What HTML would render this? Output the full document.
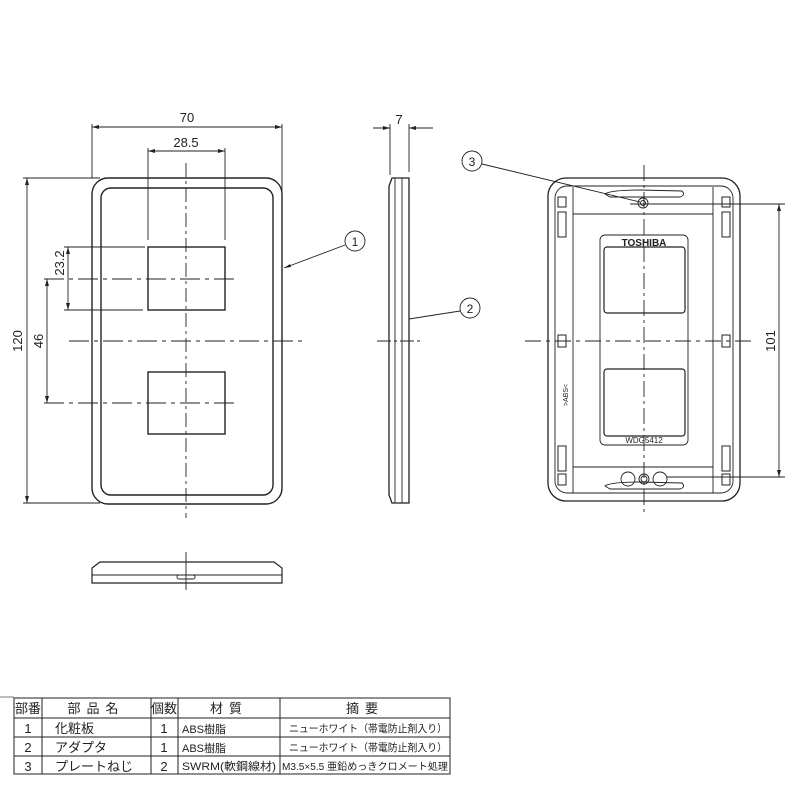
<!DOCTYPE html>
<html><head><meta charset="utf-8"><style>
html,body{margin:0;padding:0;background:#fff;}
svg{display:block;}
text{font-family:"Liberation Sans","Noto Sans CJK JP",sans-serif;fill:#222;}
</style></head><body>
<svg width="800" height="800" viewBox="0 0 800 800" xmlns="http://www.w3.org/2000/svg">
<g fill="none" stroke="#222" stroke-width="1.4">
<rect x="92" y="178" width="190" height="326" rx="16"/>
<rect x="101" y="188" width="172" height="307" rx="10"/>
<rect x="148" y="247" width="77" height="63"/>
<rect x="148" y="372" width="77" height="62"/>
</g>
<g fill="none" stroke="#222" stroke-width="0.9">
<line x1="186" y1="163" x2="186" y2="518" stroke-dasharray="14,4,3,4"/>
<line x1="69" y1="341" x2="302" y2="341" stroke-dasharray="20,5,4,5"/>
<line x1="44" y1="279" x2="238" y2="279" stroke-dasharray="20,5,4,5"/>
<line x1="44" y1="403" x2="238" y2="403" stroke-dasharray="20,5,4,5"/>
<line x1="92" y1="124" x2="92" y2="178"/><line x1="282" y1="124" x2="282" y2="195"/>
<line x1="92" y1="127" x2="282" y2="127"/>
<line x1="148" y1="148" x2="148" y2="240"/><line x1="225" y1="148" x2="225" y2="240"/>
<line x1="148" y1="151" x2="225" y2="151"/>
<line x1="23" y1="178" x2="100" y2="178"/><line x1="23" y1="503" x2="100" y2="503"/>
<line x1="27" y1="178" x2="27" y2="503"/>
<line x1="47" y1="279" x2="47" y2="403"/>
<line x1="64" y1="247" x2="145" y2="247"/><line x1="64" y1="310" x2="143" y2="310"/>
<line x1="68" y1="247" x2="68" y2="310"/>
<line x1="284" y1="268" x2="345" y2="245"/>
<line x1="409" y1="319" x2="460" y2="311"/>
<line x1="482" y1="164" x2="640" y2="202"/>
<circle cx="355" cy="241" r="10"/>
<circle cx="470" cy="308" r="10"/>
<circle cx="472" cy="161" r="10"/>
<path d="M392 178 L409 178 L409 503 L392 503 L389 495 L389 186 Z" stroke-width="1.3"/>
<line x1="395" y1="178" x2="395" y2="503"/>
<line x1="402" y1="178" x2="402" y2="503"/>
<line x1="390" y1="124" x2="390" y2="175"/><line x1="409" y1="124" x2="409" y2="172"/>
<line x1="373" y1="128" x2="390" y2="128"/><line x1="409" y1="128" x2="433" y2="128"/>
<line x1="377" y1="341" x2="420" y2="341" stroke-dasharray="14,3,3,3"/>
<path d="M92 583 L92 568 L100 562 L274 562 L282 568 L282 583 Z" stroke-width="1.2"/>
<line x1="92" y1="575" x2="282" y2="575"/>
<rect x="177" y="575" width="18" height="4" rx="2"/>
<line x1="186" y1="552" x2="186" y2="590"/>
<rect x="548" y="178" width="192" height="323" rx="18" stroke-width="1.3"/>
<rect x="555" y="186" width="178" height="307" rx="12"/>
<line x1="573" y1="187" x2="573" y2="493"/><line x1="713" y1="187" x2="713" y2="493"/>
<line x1="573" y1="214" x2="713" y2="214"/><line x1="573" y1="467" x2="713" y2="467"/>
<rect x="600" y="235" width="88" height="210" rx="5"/>
<rect x="604" y="247" width="81" height="66" rx="3" stroke-width="1.2"/>
<rect x="604" y="369" width="81" height="67" rx="3" stroke-width="1.2"/>
<path d="M605 194 Q610 190 640 190 L682 191 Q686 195 680 197 L610 197 Z"/>
<path d="M605 486 Q610 482 640 482 L682 483 Q686 487 680 489 L610 489 Z"/>
<circle cx="643" cy="203" r="5"/><circle cx="643" cy="203" r="2.5"/>
<circle cx="628" cy="479" r="7"/><circle cx="660" cy="479" r="7"/>
<circle cx="644" cy="479" r="5"/><circle cx="644" cy="479" r="3"/>
<g stroke-width="1">
<rect x="558" y="197" width="8" height="10"/><rect x="558" y="212" width="8" height="25"/>
<rect x="722" y="197" width="8" height="10"/><rect x="722" y="212" width="8" height="25"/>
<rect x="558" y="335" width="8" height="12"/><rect x="722" y="335" width="8" height="12"/>
<rect x="558" y="446" width="8" height="25"/><rect x="558" y="474" width="8" height="11"/>
<rect x="722" y="446" width="8" height="25"/><rect x="722" y="474" width="8" height="11"/>
</g>
<line x1="644" y1="165" x2="644" y2="512" stroke-dasharray="16,4,3,4"/>
<line x1="525" y1="341" x2="755" y2="341" stroke-dasharray="16,5,4,5"/>
<line x1="630" y1="204" x2="785" y2="204"/>
<line x1="667" y1="477" x2="785" y2="477"/>
<line x1="779" y1="204" x2="779" y2="477"/>
</g>
<g fill="#222">
<path d="M92 127 l7 -2 v4 z"/><path d="M282 127 l-7 -2 v4 z"/>
<path d="M148 151 l7 -2 v4 z"/><path d="M225 151 l-7 -2 v4 z"/>
<path d="M27 178 l-2 7 h4 z"/><path d="M27 503 l-2 -7 h4 z"/>
<path d="M47 279 l-2 7 h4 z"/><path d="M47 403 l-2 -7 h4 z"/>
<path d="M68 247 l-2 7 h4 z"/><path d="M68 310 l-2 -7 h4 z"/>
<path d="M390 128 l-7 -2 v4 z"/><path d="M409 128 l7 -2 v4 z"/>
<path d="M284 268 l6 -4 l1 3 z"/>
<path d="M779 204 l-2 7 h4 z"/><path d="M779 477 l-2 -7 h4 z"/>
</g>
<g font-size="13">
<text x="187" y="122" text-anchor="middle">70</text>
<text x="186" y="147" text-anchor="middle">28.5</text>
<text x="399" y="124" text-anchor="middle">7</text>
<text transform="translate(22,341) rotate(-90)" text-anchor="middle">120</text>
<text transform="translate(43,341) rotate(-90)" text-anchor="middle">46</text>
<text transform="translate(64,263) rotate(-90)" text-anchor="middle">23.2</text>
<text transform="translate(775,341) rotate(-90)" text-anchor="middle">101</text>
<text x="355" y="246" text-anchor="middle" font-size="12">1</text>
<text x="470" y="313" text-anchor="middle" font-size="12">2</text>
<text x="472" y="166" text-anchor="middle" font-size="12">3</text>
</g>
<text x="644" y="246" text-anchor="middle" font-size="10" font-weight="bold">TOSHIBA</text>
<text x="644" y="443" text-anchor="middle" font-size="8">WDG5412</text>
<text transform="translate(568,395) rotate(-90)" text-anchor="middle" font-size="7">&gt;ABS&lt;</text>
<g stroke="#222" stroke-width="1" fill="none">
<rect x="14" y="698" width="436" height="76"/>
<line x1="14" y1="718" x2="450" y2="718"/>
<line x1="14" y1="737" x2="450" y2="737"/>
<line x1="14" y1="756" x2="450" y2="756"/>
<line x1="42" y1="698" x2="42" y2="774"/>
<line x1="151" y1="698" x2="151" y2="774"/>
<line x1="178" y1="698" x2="178" y2="774"/>
<line x1="280" y1="698" x2="280" y2="774"/>
<line x1="0" y1="697" x2="14" y2="697" stroke-width="0.6"/>
</g>
<g font-size="13">
<text x="28" y="713" text-anchor="middle">部番</text>
<text x="96" y="713" text-anchor="middle" letter-spacing="6">部品名</text>
<text x="164" y="713" text-anchor="middle">個数</text>
<text x="229" y="713" text-anchor="middle" letter-spacing="6">材質</text>
<text x="365" y="713" text-anchor="middle" letter-spacing="6">摘要</text>
<text x="28" y="733" text-anchor="middle">1</text>
<text x="55" y="733">化粧板</text>
<text x="164" y="733" text-anchor="middle">1</text>
<text x="182" y="733" font-size="11">ABS樹脂</text>
<text x="289" y="732" font-size="10.5" textLength="158" lengthAdjust="spacingAndGlyphs">ニューホワイト（帯電防止剤入り）</text>
<text x="28" y="752" text-anchor="middle">2</text>
<text x="55" y="752">アダプタ</text>
<text x="164" y="752" text-anchor="middle">1</text>
<text x="182" y="752" font-size="11">ABS樹脂</text>
<text x="289" y="751" font-size="10.5" textLength="158" lengthAdjust="spacingAndGlyphs">ニューホワイト（帯電防止剤入り）</text>
<text x="28" y="771" text-anchor="middle">3</text>
<text x="55" y="771">プレートねじ</text>
<text x="164" y="771" text-anchor="middle">2</text>
<text x="182" y="770" font-size="11" textLength="94" lengthAdjust="spacingAndGlyphs">SWRM(軟鋼線材)</text>
<text x="282" y="770" font-size="10" textLength="166" lengthAdjust="spacingAndGlyphs">M3.5×5.5 亜鉛めっきクロメート処理</text>
</g>
</svg>
</body></html>
